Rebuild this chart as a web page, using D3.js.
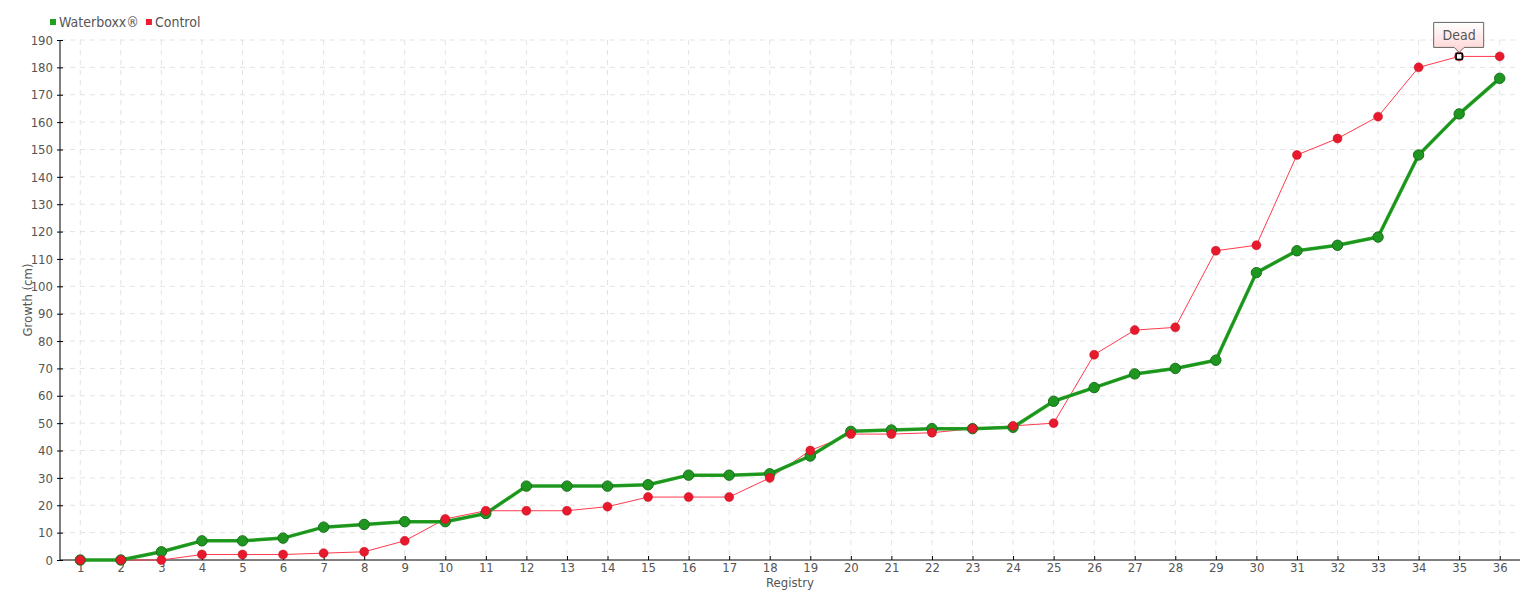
<!DOCTYPE html>
<html><head><meta charset="utf-8">
<script src="https://cdn.jsdelivr.net/npm/d3@7"></script>
<style>
body{margin:0;background:#fff;}
text{font-family:"DejaVu Sans Condensed","DejaVu Sans",sans-serif;font-stretch:condensed;fill:#555;}
</style></head>
<body><svg id="c" width="1540" height="600"></svg>
<script>
const registry = d3.range(1, 37).map(String);
const waterboxx = [0,0,3,7,7,8,12,13,14,14,17,27,27,27,27.5,31,31,31.5,38,47,47.5,48,48,48.5,58,63,68,70,73,105,113,115,118,148,163,176];
const control = [0,0,0,2,2,2,2.5,3,7,15,18,18,18,19.5,23,23,23,30,40,46,46,46.5,48,49,50,75,84,85,113,115,148,154,162,180,184,184];
const yTicks = d3.range(0, 191, 10);
const seriesNames = ["Waterboxx®", "Control"];
const annotation = {series: 1, index: 34, label: "Dead"};

const svg = d3.select("#c");
const m = {l:60, r:20, t:40, b:40};
const W = 1540, H = 600;
const x = d3.scalePoint().domain(registry).range([m.l, W - m.r]).padding(0.5);
const y = d3.scaleLinear().domain([0, 190]).range([H - m.b, m.t]);

// grid
const g = svg.append("g");
g.selectAll(".hg").data(yTicks.slice(1)).join("line")
  .attr("x1", m.l).attr("x2", W - m.r).attr("y1", d=>y(d)).attr("y2", d=>y(d))
  .attr("stroke", "#e3e3e3").attr("stroke-dasharray", "5,5");
g.selectAll(".vg").data(registry).join("line")
  .attr("x1", d=>x(d)).attr("x2", d=>x(d)).attr("y1", m.t).attr("y2", H - m.b)
  .attr("stroke", "#e3e3e3").attr("stroke-dasharray", "5,5");

// axes
const ya = svg.append("g").attr("transform", `translate(${m.l},0)`)
  .call(d3.axisLeft(y).tickValues(yTicks).tickSize(3).tickPadding(4));
ya.select(".domain").attr("stroke", "#000").attr("d", `M0,${m.t}V${H-m.b}`);
ya.selectAll(".tick line").attr("x2", 3).attr("x1", -3).attr("stroke", "#000");
ya.selectAll("text").style("font-size", "13px").attr("fill", "#555");

const xa = svg.append("g").attr("transform", `translate(0,${H - m.b})`)
  .call(d3.axisBottom(x).tickSize(-4).tickPadding(3));
xa.select(".domain").attr("stroke", "#000").attr("d", `M${m.l},0H${W-m.r}`);
xa.selectAll(".tick line").attr("stroke", "#000");
xa.selectAll("text").style("font-size", "13px").attr("fill", "#555");

svg.append("text").attr("x", (m.l + W - m.r)/2).attr("y", 587).attr("text-anchor", "middle")
  .style("font-size", "13px").text("Registry");
svg.append("text").attr("transform", `translate(32,${(m.t + H - m.b)/2}) rotate(-90)`)
  .attr("text-anchor", "middle").style("font-size", "13px").text("Growth (cm)");

// lines
const line = d3.line().x((d,i)=>x(registry[i])).y(d=>y(d));
svg.append("path").datum(control).attr("d", line).attr("fill", "none")
  .attr("stroke", "#ff3a4c").attr("stroke-width", 1);
svg.append("path").datum(waterboxx).attr("d", line).attr("fill", "none")
  .attr("stroke", "#22a022").attr("stroke-width", 3.5).attr("stroke-linejoin", "round");
svg.append("path").datum(waterboxx).attr("d", line).attr("fill", "none")
  .attr("stroke", "#1c8f1c").attr("stroke-width", 1.2);

svg.append("g").selectAll("circle").data(waterboxx).join("circle")
  .attr("cx", (d,i)=>x(registry[i])).attr("cy", d=>y(d)).attr("r", 5.2)
  .attr("fill", "#1f961f").attr("stroke", "#17701a").attr("stroke-width", 1);
svg.append("g").selectAll("circle").data(control).join("circle")
  .attr("cx", (d,i)=>x(registry[i])).attr("cy", d=>y(d)).attr("r", 4.5)
  .attr("fill", "#e8192c").attr("stroke", "#c01020").attr("stroke-width", 0.5);

// annotation
const ax = x(registry[annotation.index]), ay = y(control[annotation.index]);
svg.append("rect").attr("x", ax - 3).attr("y", ay - 3).attr("width", 6).attr("height", 6)
  .attr("fill", "#fff").attr("stroke", "#000").attr("stroke-width", 1.5);
const defs = svg.append("defs");
const gr = defs.append("linearGradient").attr("id", "tg").attr("x1", 0).attr("x2", 0).attr("y1", 0).attr("y2", 1);
gr.append("stop").attr("offset", "0%").attr("stop-color", "#fff");
gr.append("stop").attr("offset", "100%").attr("stop-color", "#ffd2d2");
const bw = 50, bh = 25, bx = ax - bw/2 - 0.5, by = ay - 34;
svg.append("path")
  .attr("d", `M${bx},${by}H${bx+bw}V${by+bh}H${ax+5}L${ax},${by+bh+5}L${ax-5},${by+bh}H${bx}Z`)
  .attr("fill", "url(#tg)").attr("stroke", "#666").attr("stroke-width", 1);
svg.append("text").attr("x", ax).attr("y", by + 18).attr("text-anchor", "middle")
  .style("font-size", "14px").text(annotation.label);

// legend
const lg = svg.append("g").attr("transform", "translate(50,22)");
const colors = ["#1fa01f", "#ee1c30"];
let lx = 0;
seriesNames.forEach((n,i)=>{
  lg.append("rect").attr("x", lx).attr("y", -3).attr("width", 6).attr("height", 6).attr("fill", colors[i]);
  const t = lg.append("text").attr("x", lx + 9).attr("y", 5).style("font-size", "14px").text(n);
  lx += 9 + t.node().getComputedTextLength() + 7;
});
</script></body></html>
